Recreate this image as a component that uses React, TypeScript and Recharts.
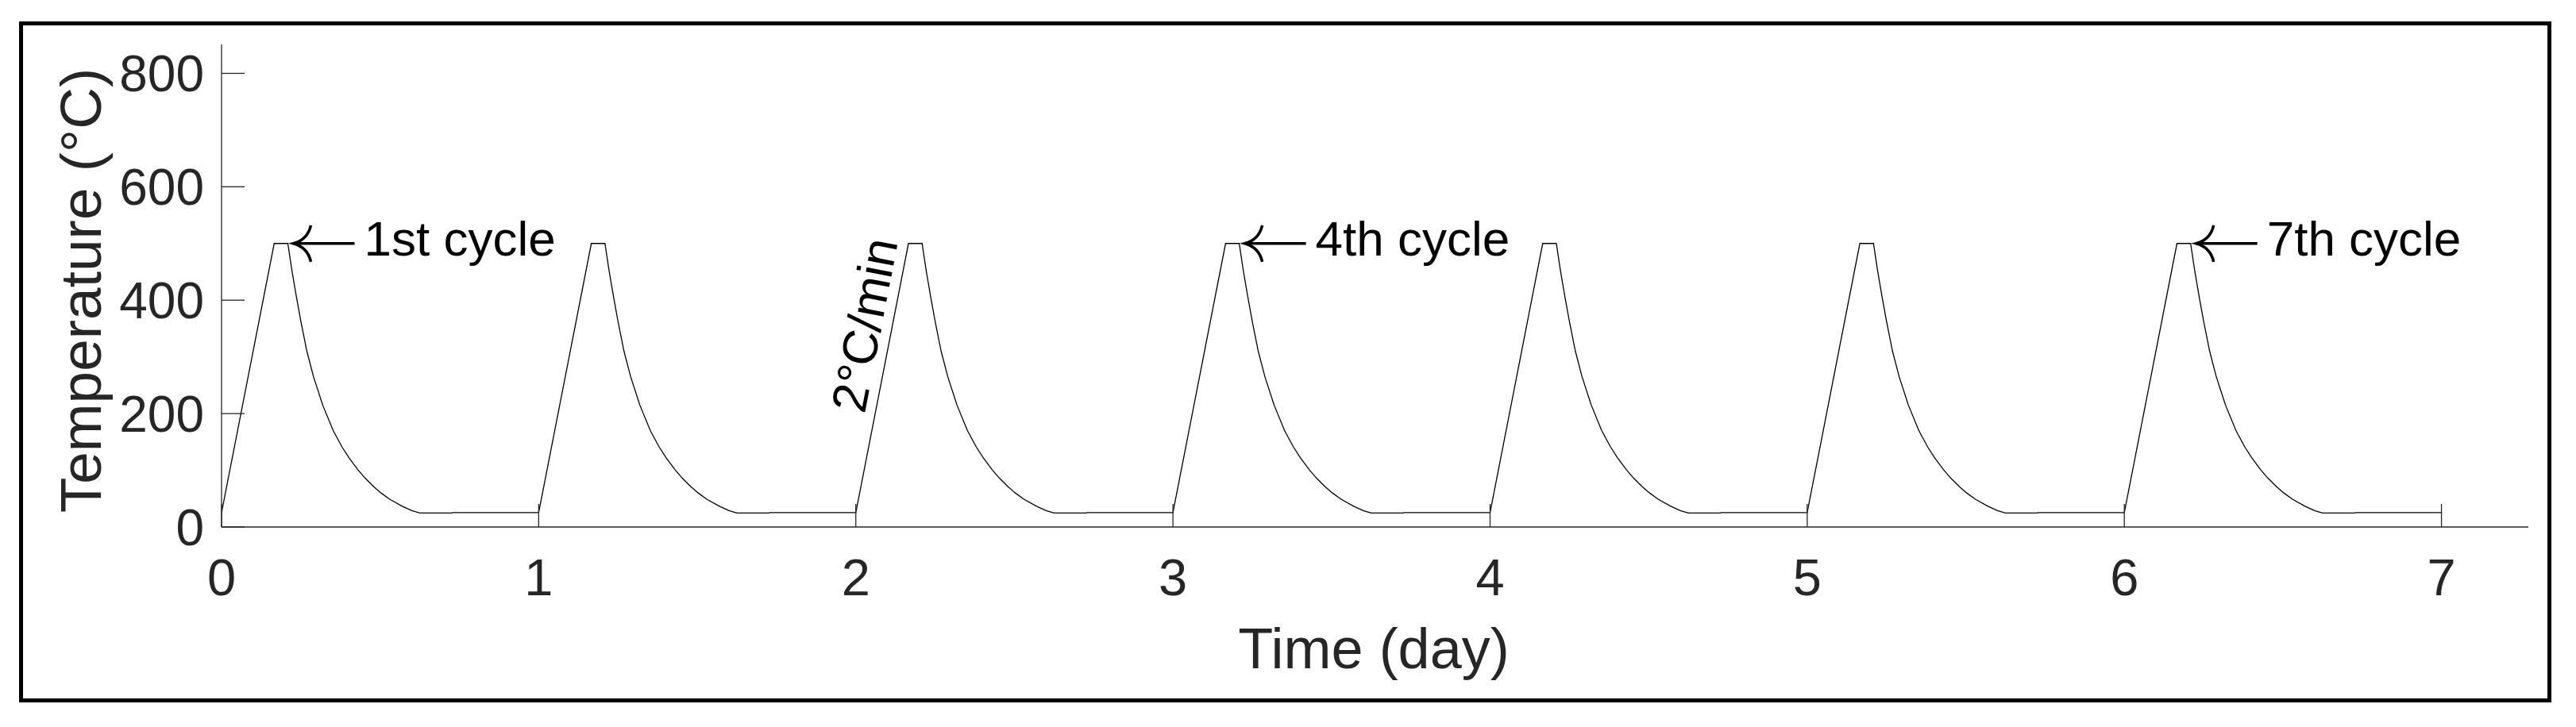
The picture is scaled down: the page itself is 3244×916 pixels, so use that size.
import React from "react";
import { LineChart, Line, XAxis, YAxis, ReferenceDot, Label } from "recharts";

// ---- data ----
const cycleStartDays = [0, 1, 2, 3, 4, 5, 6];
// one heating/cooling cycle: time since cycle start (day) and temperature (°C)
const profileDays = [0, 0.166, 0.209, 0.222, 0.236, 0.25, 0.269, 0.29, 0.319, 0.352, 0.38, 0.402, 0.43, 0.453, 0.48, 0.503, 0.53, 0.57, 0.6, 0.625, 0.726, 0.729];
const profileTemps = [25.4, 500, 500, 452, 406, 363, 310, 265, 215, 170, 141, 122, 101, 86, 71, 60, 49, 36.5, 29, 24.6, 24.6, 25.4];
const endDay = 7;
const endTemp = 25.4;

const xTicks = [0, 1, 2, 3, 4, 5, 6, 7];
const yTicks = [0, 200, 400, 600, 800];
const xDomain = [0, 7.274];
const yDomain = [0, 851];

const annotationDays = [0.209, 3.209, 6.209];
const annotationTemp = 500;
const annotationLabels = ["1st cycle", "4th cycle", "7th cycle"];
const rateLabelDay = 2;
const rateLabelTemp = 25;
const rateLabel = "2°C/min";

const xTitle = "Time (day)";
const yTitle = "Temperature (°C)";

// ---- table for the library ----
const data: { t: number; T: number }[] = [];
cycleStartDays.forEach((s) => {
  profileDays.forEach((p, i) => data.push({ t: s + p, T: profileTemps[i] }));
});
data.push({ t: endDay, T: endTemp });

// ---- layout ----
const W = 3244;
const H = 916;
const Y_AXIS_W = 80;
const X_AXIS_H = 80;
const MARGIN = { top: 56, right: 60, bottom: 252 - X_AXIS_H, left: 279 - Y_AXIS_W };
const FONT = "'Liberation Sans', Arial, Helvetica, sans-serif";
const AXIS_COLOR = "#262626";
const TICK_LEN = 29;
const Y_TICK_MARGIN = 22;
const X_TICK_MARGIN = 40;

const YTick = (props: any) => {
  const { x, y, payload } = props;
  const axisX = x + Y_TICK_MARGIN;
  return (
    <g>
      <line x1={axisX} x2={axisX + TICK_LEN} y1={y} y2={y} stroke={AXIS_COLOR} strokeWidth={1.3} />
      <text x={x} y={y} dy="0.36em" textAnchor="end" fontSize={64} fontFamily={FONT} fill={AXIS_COLOR}>
        {payload.value}
      </text>
    </g>
  );
};

const XTick = (props: any) => {
  const { x, y, payload } = props;
  const axisY = y - X_TICK_MARGIN;
  return (
    <g>
      <line x1={x} x2={x} y1={axisY} y2={axisY - TICK_LEN} stroke={AXIS_COLOR} strokeWidth={1.3} />
      <text x={x} y={axisY + 86} textAnchor="middle" fontSize={65} fontFamily={FONT} fill={AXIS_COLOR}>
        {payload.value}
      </text>
    </g>
  );
};

const Annotation = (props: any) => {
  const { cx, cy, text } = props;
  const tip = cx + 7;
  return (
    <g>
      <line x1={tip} x2={cx + 84} y1={cy} y2={cy} stroke="#000" strokeWidth={3.5} />
      <path
        d={`M${tip + 22},${cy - 23} Q${tip + 18},${cy - 5} ${tip},${cy} Q${tip + 18},${cy + 5} ${tip + 22},${cy + 23}`}
        fill="none"
        stroke="#000"
        strokeWidth={3.5}
      />
      <text x={cx + 96} y={cy + 15} fontSize={62} fontFamily={FONT} fill="#000">
        {text}
      </text>
    </g>
  );
};

const RateLabel = (props: any) => {
  const { cx, cy } = props;
  const px = cx + 11;
  const py = cy - 124;
  return (
    <text
      x={px}
      y={py}
      transform={`rotate(-79 ${px} ${py})`}
      fontSize={62}
      fontFamily={FONT}
      fill="#000"
    >
      {rateLabel}
    </text>
  );
};

export default function App() {
  return (
    <div style={{ position: "absolute", left: 0, top: 0, width: W, height: H, background: "#fff" }}>
      <LineChart width={W} height={H} data={data} margin={MARGIN}>
        <XAxis
          dataKey="t"
          type="number"
          domain={xDomain}
          ticks={xTicks}
          height={X_AXIS_H}
          tickSize={0}
          tickMargin={X_TICK_MARGIN}
          tickLine={false}
          tick={XTick}
          interval={0}
          axisLine={{ stroke: AXIS_COLOR, strokeWidth: 1.3 }}
          allowDataOverflow
        >
          <Label
            content={() => (
              <text x={1730} y={842} textAnchor="middle" fontSize={72} fontFamily={FONT} fill={AXIS_COLOR}>
                {xTitle}
              </text>
            )}
          />
        </XAxis>
        <YAxis
          type="number"
          domain={yDomain}
          ticks={yTicks}
          width={Y_AXIS_W}
          tickSize={0}
          tickMargin={Y_TICK_MARGIN}
          tickLine={false}
          tick={YTick}
          interval={0}
          axisLine={{ stroke: AXIS_COLOR, strokeWidth: 1.3 }}
          allowDataOverflow
        >
          <Label
            content={() => (
              <text
                x={127}
                y={366}
                transform="rotate(-90 127 366)"
                textAnchor="middle"
                fontSize={73}
                fontFamily={FONT}
                fill={AXIS_COLOR}
              >
                {yTitle}
              </text>
            )}
          />
        </YAxis>
        <Line
          dataKey="T"
          type="linear"
          dot={false}
          activeDot={false}
          stroke="#000"
          strokeWidth={1.3}
          isAnimationActive={false}
        />
        {annotationDays.map((d, i) => (
          <ReferenceDot
            key={i}
            x={d}
            y={annotationTemp}
            r={0}
            ifOverflow="visible"
            shape={(p: any) => <Annotation {...p} text={annotationLabels[i]} />}
          />
        ))}
        <ReferenceDot
          x={rateLabelDay}
          y={rateLabelTemp}
          r={0}
          ifOverflow="visible"
          shape={(p: any) => <RateLabel {...p} />}
        />
      </LineChart>
      <div
        style={{
          position: "absolute",
          left: 24,
          top: 27,
          width: 3189,
          height: 858,
          border: "5px solid #000",
          boxSizing: "border-box",
          pointerEvents: "none",
        }}
      />
    </div>
  );
}
